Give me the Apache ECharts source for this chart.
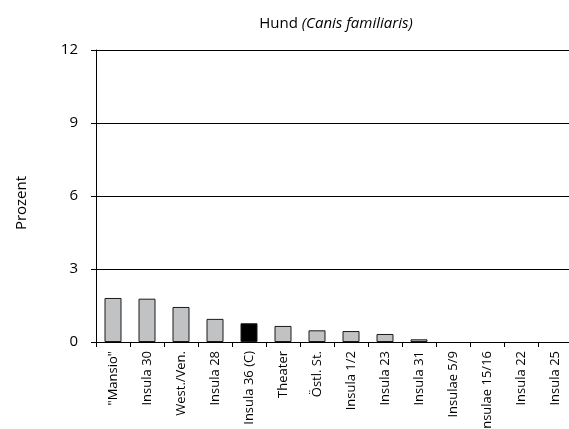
<!DOCTYPE html>
<html><head><meta charset="utf-8">
<script src="https://cdn.jsdelivr.net/npm/echarts@6/dist/echarts.min.js"></script>
<style>html,body{margin:0;padding:0;background:#fff}#c{width:569px;height:429px}</style>
</head><body><div id="c"></div>
<script>
var categories = ['"Mansio"', 'Insula 30', 'West./Ven.', 'Insula 28', 'Insula 36 (C)', 'Theater', 'Östl. St.', 'Insula 1/2', 'Insula 23', 'Insula 31', 'Insulae 5/9', 'Insulae 15/16', 'Insula 22', 'Insula 25'];
var values = [1.81, 1.78, 1.44, 0.95, 0.77, 0.66, 0.48, 0.45, 0.33, 0.11, 0, 0, 0, 0];
var highlight = 'Insula 36 (C)';
var yTicks = [0, 3, 6, 9, 12];

var FONT = '"Open Sans", "Noto Sans", sans-serif';
var chart = echarts.init(document.getElementById('c'), null, {renderer: 'canvas'});
chart.setOption({
  animation: false,
  backgroundColor: '#fff',
  title: {
    text: 'Hund {i|(Canis familiaris)}',
    left: 331, top: 11, textAlign: 'center',
    textStyle: {
      fontFamily: FONT, fontSize: 15, fontWeight: 'normal', color: '#000',
      rich: { i: { fontFamily: FONT, fontSize: 15, fontStyle: 'italic', color: '#000' } }
    }
  },
  grid: { left: 96, top: 50, width: 476, height: 292, containLabel: false, outerBoundsMode: 'none' },
  xAxis: {
    type: 'category', data: categories,
    axisLine: { lineStyle: { color: '#000', width: 1 } },
    axisTick: { show: true, length: 5, lineStyle: { color: '#000' } },
    axisLabel: { rotate: 90, margin: 9, color: '#000', fontFamily: FONT, fontSize: 13, interval: 0 },
    splitLine: { show: false }
  },
  yAxis: {
    type: 'value', min: yTicks[0], max: yTicks[yTicks.length - 1], interval: 3,
    name: 'Prozent', nameLocation: 'middle', nameGap: 67, nameRotate: 90,
    nameTextStyle: { color: '#000', fontFamily: FONT, fontSize: 15, padding: [0, 14, 0, 0] },
    axisLine: { show: true, lineStyle: { color: '#000', width: 1 } },
    axisTick: { show: true, inside: false, length: 5, lineStyle: { color: '#000' } },
    axisLabel: { margin: 18, color: '#000', fontFamily: FONT, fontSize: 15 },
    splitLine: { show: true, lineStyle: { color: '#000', width: 1 } }
  },
  series: [{
    type: 'bar', barWidth: '50%',
    data: values.map(function (v, i) {
      return {
        value: v,
        itemStyle: {
          color: categories[i] === highlight ? '#000' : '#c0c2c4',
          borderColor: '#1a1a1a',
          borderWidth: v > 0 ? 1 : 0
        }
      };
    })
  }]
});
</script></body></html>
